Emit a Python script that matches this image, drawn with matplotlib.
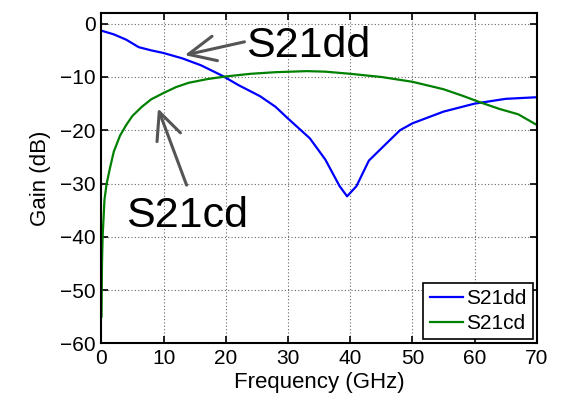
import matplotlib.pyplot as plt

plt.rcParams['font.family'] = ['Liberation Sans', 'DejaVu Sans']

# S21dd (blue)
freq_dd = [0, 2, 4, 6, 8, 10, 13, 16, 19.5, 22, 25.5, 28, 30, 33.5, 36, 38.3,
           39.5, 41, 43, 45.8, 48, 50, 55, 60, 65, 70]
gain_dd = [-1.3, -2.0, -3.0, -4.4, -5.0, -5.5, -6.5, -7.8, -9.8, -11.5, -13.6,
           -15.6, -17.8, -21.5, -25.5, -30.5, -32.4, -30.5, -25.7, -22.5,
           -20.0, -18.7, -16.5, -15.0, -14.1, -13.8]

# S21cd (green)
freq_cd = [0.02, 0.1, 0.2, 0.5, 0.85, 1.4, 2, 3, 4, 5, 6.5, 8, 10, 12, 14, 17,
           20, 24, 28, 33, 36, 40, 45, 50, 55, 58, 61, 64, 67, 70]
gain_cd = [-55, -45, -40, -33, -30, -27, -24, -21, -19, -17.3, -15.6, -14.2,
           -13.0, -11.9, -11.1, -10.4, -9.9, -9.4, -9.1, -8.9, -9.0, -9.4,
           -10.0, -10.9, -12.3, -13.5, -14.8, -16.0, -17.0, -19.0]

fig = plt.figure(figsize=(5.76, 3.96), dpi=100)
ax = fig.add_axes([0.176, 0.133, 0.756, 0.834])

ax.plot(freq_dd, gain_dd, color='#0000ff', lw=1.6, label='S21dd')
ax.plot(freq_cd, gain_cd, color='#008000', lw=1.6, label='S21cd')

ax.set_xlim(0, 70)
ax.set_ylim(-60, 2)
ax.set_xticks(range(0, 71, 10))
ax.set_yticks(range(-60, 1, 10))
ax.grid(True, linestyle=(0, (1, 2)), color='#666666', lw=0.8)
ax.tick_params(direction='in', top=True, right=True, length=5, width=1.2,
               labelsize=15, pad=4)
for s in ax.spines.values():
    s.set_linewidth(1.5)

ax.set_xlabel('Frequency (GHz)', fontsize=16, labelpad=3)
ax.set_ylabel('Gain (dB)', fontsize=16)
ax.yaxis.set_label_coords(-0.115, 0.5)

# callouts
arrow = dict(arrowstyle='->,head_length=0.65,head_width=0.3', color='#555555',
             lw=2.2, mutation_scale=30, shrinkA=0, shrinkB=0)
ax.annotate('', xy=(13.4, -5.9), xytext=(23.0, -3.4), arrowprops=arrow)
ax.annotate('', xy=(9.1, -15.9), xytext=(13.7, -30.3), arrowprops=arrow)
ax.text(23.2, -6.25, 'S21dd', fontsize=31, va='baseline', ha='left')
ax.text(3.9, -38.1, 'S21cd', fontsize=31, va='baseline', ha='left')

leg = ax.legend(loc='lower right', fontsize=15, fancybox=False,
                edgecolor='black', framealpha=1, borderaxespad=0.2,
                handlelength=1.6, handletextpad=0.15, borderpad=0.3,
                labelspacing=0.28)
leg.get_frame().set_linewidth(1.2)

fig.savefig('out.png', dpi=100)
